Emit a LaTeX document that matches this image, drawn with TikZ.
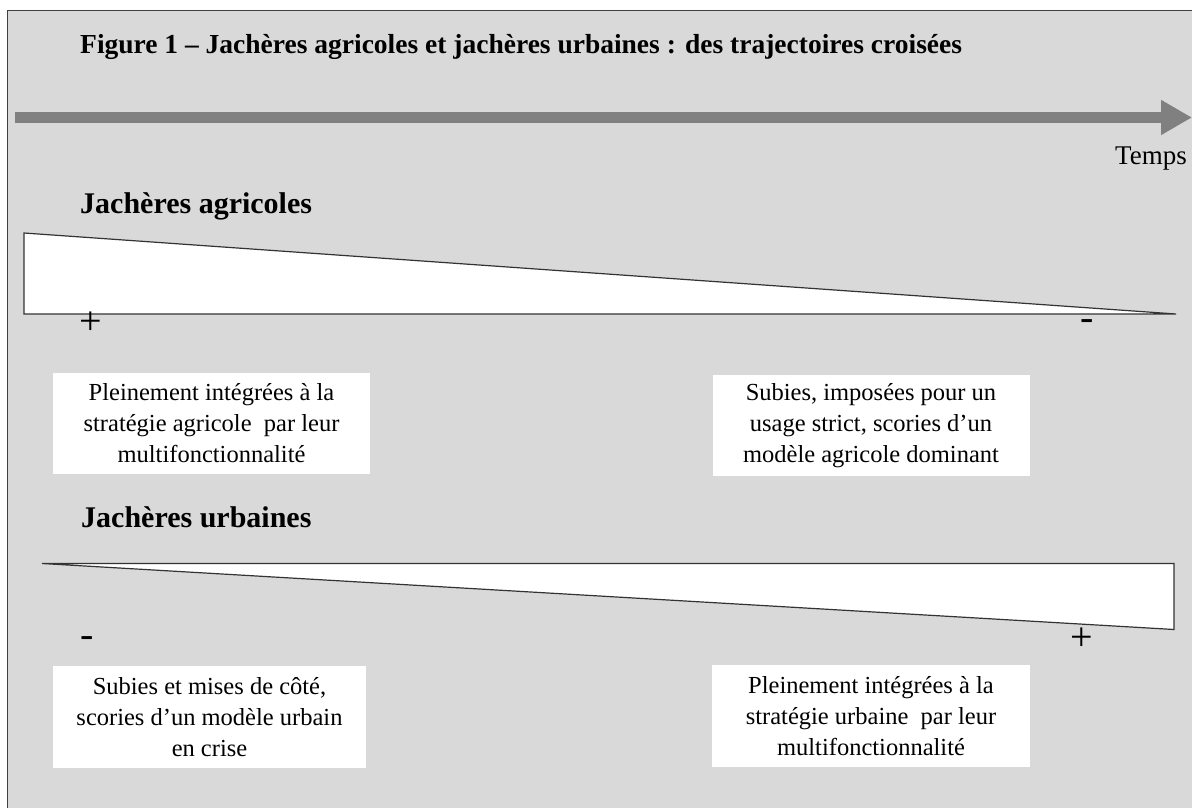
\documentclass[tikz,border=0pt]{standalone}
\usepackage{fontspec}
\setmainfont{Liberation Serif}
\usetikzlibrary{arrows.meta}
\definecolor{bggray}{HTML}{D9D9D9}
\definecolor{framegray}{HTML}{404040}
\definecolor{arrowgray}{HTML}{808080}
\tikzset{
  txtbox/.style={fill=white, draw=none, minimum width=317pt, minimum height=101pt, align=center, inner sep=0pt, font=\fontsize{24.5}{31}\selectfont},
  wedge/.style={fill=white, draw=black!80, line width=1.2pt, line join=miter},
  heading/.style={anchor=base west, inner sep=0pt, font=\fontsize{30}{34}\selectfont\bfseries},
  sign/.style={inner sep=0pt, font=\fontsize{40}{42}\selectfont},
}
\begin{document}
\begin{tikzpicture}[x=1pt,y=-1pt]
\useasboundingbox (0,0) rectangle (1192,808);
% frame
\path[fill=bggray, draw=framegray, line width=1.6pt] (7.5,10.5) rectangle (1220,840);
% title
\node[anchor=base west, inner sep=0pt, font=\fontsize{27.5}{32}\selectfont\bfseries] (title) at (80,54) {Figure 1 -- Jachères agricoles et jachères urbaines : des trajectoires croisées};
% time arrow
\coordinate (ts) at (15,117.5);
\coordinate (te) at (1192,117.5);
\draw[arrowgray, line width=11pt, -{Triangle[length=31pt,width=33pt]}] (ts) -- (te);
\node[anchor=base east, inner sep=0pt, font=\fontsize{27}{30}\selectfont] (temps) at (1187,164) {Temps};
% agricultural
\node[heading] (hagri) at (80,213) {Jachères agricoles};
\path[wedge] (24,233) -- (24,314) -- (1176,314) -- cycle;
\node[sign] (plus1) at (91,323) {+};
\node[sign] (minus1) at (1087,325) {-};
\node[txtbox] (b1) at (211.5,423.5) {Pleinement intégrées à la\\stratégie agricole\ \ par leur\\multifonctionnalité};
\node[txtbox] (b2) at (871,425.5) {Subies, imposées pour un\\usage strict, scories d’un\\modèle agricole dominant};
% urban
\node[heading] (hurb) at (81,527) {Jachères urbaines};
\path[wedge] (42,563.5) -- (1174,563.5) -- (1174,629.5) -- cycle;
\node[sign] (minus2) at (87,642) {-};
\node[sign] (plus2) at (1082,639) {+};
\node[txtbox, minimum width=313pt, minimum height=102pt] (b3) at (209.5,717) {Subies et mises de côté,\\scories d’un modèle urbain\\en crise};
\node[txtbox, minimum width=318pt, minimum height=102pt] (b4) at (871,716) {Pleinement intégrées à la\\stratégie urbaine\ \ par leur\\multifonctionnalité};
\end{tikzpicture}
\end{document}
